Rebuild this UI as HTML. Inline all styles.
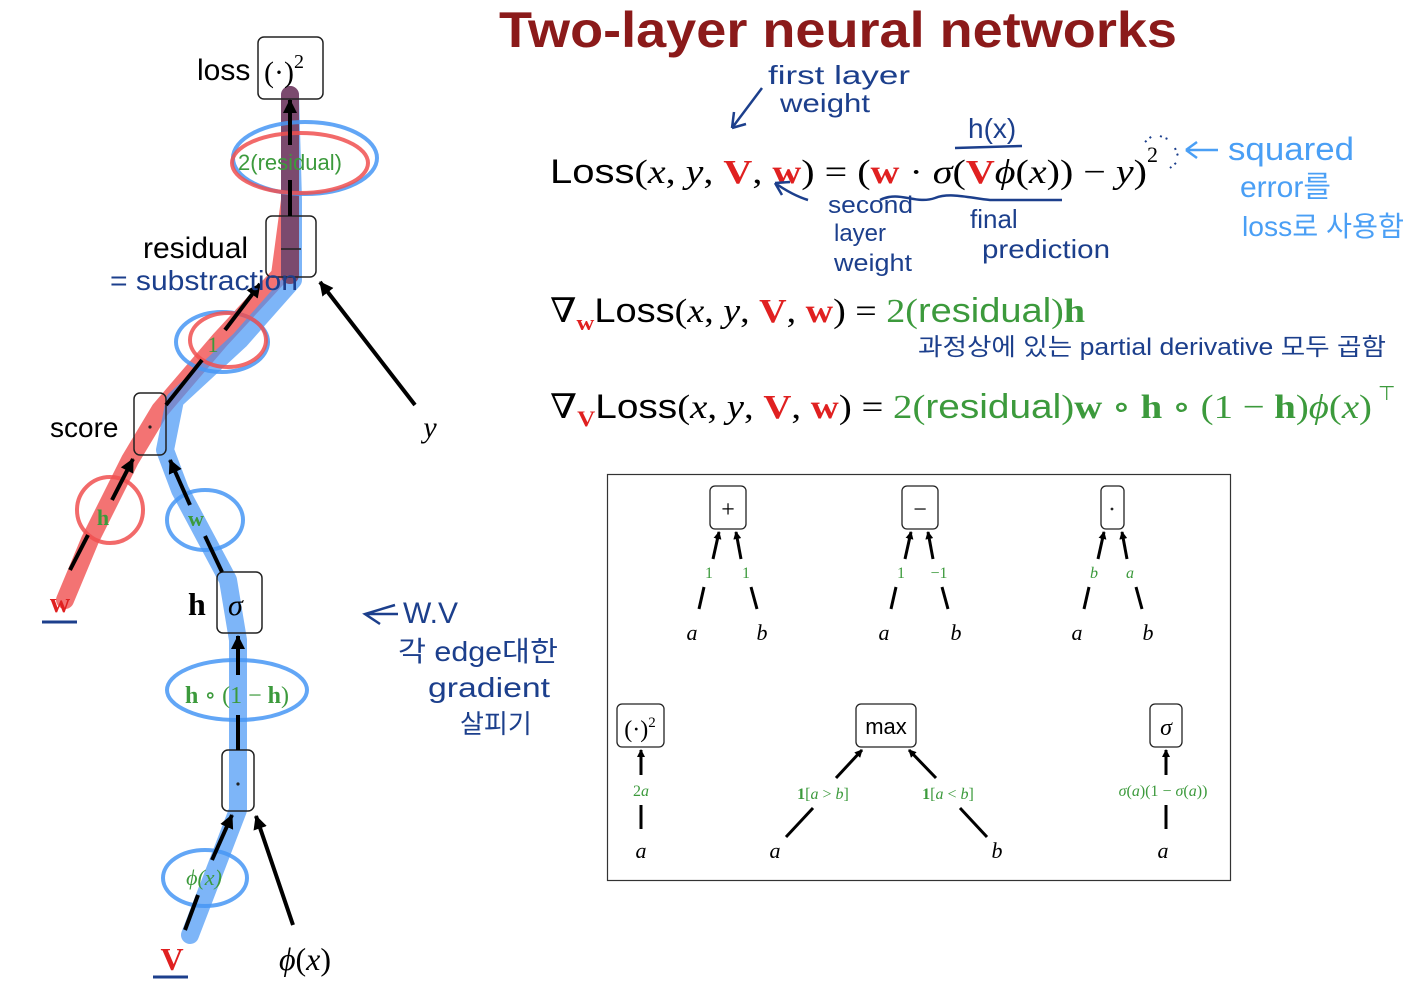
<!DOCTYPE html>
<html><head><meta charset="utf-8"><style>
html,body{margin:0;padding:0;background:#fff;}
svg{display:block}
.s{font-family:"Liberation Sans","Noto Sans CJK KR",sans-serif}
.m{font-family:"Liberation Serif","DejaVu Serif",serif}
.i{font-style:italic}
.g{fill:#3c9a3c}
.r{fill:#e02020}
.hw{font-family:"Liberation Sans","Noto Sans CJK KR",sans-serif;fill:#1c3f8c}
.lb{fill:#4a9ff5}
</style></head><body>
<svg width="1412" height="1000" viewBox="0 0 1412 1000" xmlns="http://www.w3.org/2000/svg">
<defs>
<marker id="ah" markerWidth="8" markerHeight="8" refX="7" refY="4" orient="auto" markerUnits="userSpaceOnUse"><path d="M0,0 L8,4 L0,8 z" fill="#000"/></marker>
<marker id="ah2" markerWidth="14" markerHeight="14" refX="13" refY="7" orient="auto" markerUnits="userSpaceOnUse"><path d="M0,0 L14,7 L0,14 z" fill="#000"/></marker>
</defs>

<path d="M65,600 L90,540 L130,460 L160,410 L220,340 L280,275 L290,200 L290,95" fill="none" stroke="rgba(240,80,80,0.8)" stroke-width="18" stroke-linecap="round" stroke-linejoin="round"/>
<path d="M190,935 L215,870 L238,810 L238,700 L238,640 L228,580 L180,490 L165,450 L175,400 L240,340 L293,280 L293,200 L290,95" fill="none" stroke="rgba(70,150,245,0.7)" stroke-width="18" stroke-linecap="round" stroke-linejoin="round"/>
<path d="M290,95 L290,275" stroke="#7b4a6e" stroke-width="18" stroke-linecap="round" fill="none"/>

<g fill="none" stroke-width="4">
<ellipse cx="305" cy="158" rx="72" ry="36" stroke="rgba(70,150,245,0.85)"/>
<ellipse cx="300" cy="163" rx="68" ry="30" stroke="rgba(240,80,80,0.85)"/>
<ellipse cx="222" cy="342" rx="46" ry="30" stroke="rgba(70,150,245,0.85)"/>
<ellipse cx="228" cy="340" rx="38" ry="27" stroke="rgba(240,80,80,0.85)"/>
<ellipse cx="110" cy="510" rx="33" ry="33" stroke="rgba(240,80,80,0.85)"/>
<ellipse cx="205" cy="520" rx="38" ry="30" stroke="rgba(70,150,245,0.85)"/>
<ellipse cx="237" cy="690" rx="70" ry="30" stroke="rgba(70,150,245,0.85)"/>
<ellipse cx="205" cy="878" rx="42" ry="28" stroke="rgba(70,150,245,0.85)"/>
</g>

<g fill="none" stroke="#222" stroke-width="1.5">
<rect x="258" y="37" width="65" height="62" rx="6"/>
<rect x="266" y="216" width="50" height="61" rx="6"/>
<rect x="134" y="393" width="32" height="62" rx="6"/>
<rect x="217" y="572" width="45" height="61" rx="6"/>
<rect x="222" y="750" width="32" height="61" rx="6"/>
</g>
<text x="197" y="80" class="s" font-size="30">loss</text>
<text x="264" y="82" class="m" font-size="30">(·)<tspan font-size="20" dy="-14">2</tspan></text>
<text x="143" y="258" class="s" font-size="30">residual</text>
<line x1="281" y1="249" x2="301" y2="249" stroke="#222" stroke-width="1.5"/>
<text x="50" y="437" class="s" font-size="28">score</text>
<circle cx="150" cy="427" r="1.6" fill="#222"/>
<text x="188" y="615" class="m" font-size="32" font-weight="bold">h</text>
<text x="228" y="615" class="m i" font-size="30">σ</text>
<circle cx="238" cy="784" r="1.6" fill="#222"/>

<g stroke="#000" stroke-width="4" fill="none">
<line x1="290" y1="216" x2="290" y2="180"/><line x1="290" y1="145" x2="290" y2="100" marker-end="url(#ah2)"/>
<line x1="166" y1="405" x2="202" y2="360"/><line x1="225" y1="330" x2="260" y2="284" marker-end="url(#ah2)"/>
<line x1="415" y1="405" x2="320" y2="282" marker-end="url(#ah2)"/>
<line x1="70" y1="570" x2="88" y2="535"/><line x1="112" y1="500" x2="133" y2="459" marker-end="url(#ah2)"/>
<line x1="222" y1="572" x2="205" y2="536"/><line x1="190" y1="505" x2="170" y2="460" marker-end="url(#ah2)"/>
<line x1="238" y1="750" x2="238" y2="715"/><line x1="238" y1="675" x2="238" y2="636" marker-end="url(#ah2)"/>
<line x1="185" y1="930" x2="198" y2="895"/><line x1="212" y1="860" x2="232" y2="815" marker-end="url(#ah2)"/>
<line x1="293" y1="925" x2="256" y2="816" marker-end="url(#ah2)"/>
</g>
<text x="290" y="170" class="s g" font-size="22" text-anchor="middle">2(residual)</text>
<text x="213" y="352" class="m g" font-size="22" text-anchor="middle">1</text>
<text x="103" y="525" class="m g" font-size="22" font-weight="bold" text-anchor="middle">h</text>
<text x="196" y="526" class="m g" font-size="22" font-weight="bold" text-anchor="middle">w</text>
<text x="237" y="703" class="m g" font-size="24" text-anchor="middle"><tspan font-weight="bold">h</tspan> ∘ (1 − <tspan font-weight="bold">h</tspan>)</text>
<text x="204" y="885" class="m i g" font-size="22" text-anchor="middle">ϕ(x)</text>
<text x="430" y="437" class="m i" font-size="30" text-anchor="middle">y</text>
<text x="60" y="612" class="m r" font-size="28" font-weight="bold" text-anchor="middle">w</text>
<line x1="42" y1="622" x2="77" y2="622" stroke="#1c3f8c" stroke-width="3"/>
<text x="172" y="970" class="m r" font-size="32" font-weight="bold" text-anchor="middle">V</text>
<line x1="153" y1="977" x2="188" y2="977" stroke="#1c3f8c" stroke-width="3"/>
<text x="305" y="970" class="m" font-size="32" text-anchor="middle"><tspan class="i">ϕ</tspan>(<tspan class="i">x</tspan>)</text>

<text x="110" y="290" class="hw" font-size="28" textLength="188" lengthAdjust="spacingAndGlyphs">= substraction</text>
<path d="M395,605 L365,614 L380,624 M365,614 L398,614" stroke="#1c3f8c" stroke-width="2.5" fill="none"/>
<text x="403" y="623" class="hw" font-size="30">W.V</text>
<text x="398" y="661" class="hw" font-size="28" textLength="160" lengthAdjust="spacingAndGlyphs">각 edge대한</text>
<text x="428" y="697" class="hw" font-size="28" textLength="122" lengthAdjust="spacingAndGlyphs">gradient</text>
<text x="460" y="733" class="hw" font-size="26">살피기</text>

<text x="838" y="47" font-family="Liberation Sans,sans-serif" font-weight="bold" font-size="50" fill="#8b1a1a" text-anchor="middle" textLength="678" lengthAdjust="spacingAndGlyphs">Two-layer neural networks</text>

<text x="550" y="183" class="m" font-size="34" textLength="597" lengthAdjust="spacingAndGlyphs"><tspan class="s">Loss</tspan>(<tspan class="i">x</tspan>, <tspan class="i">y</tspan>, <tspan class="r" font-weight="bold">V</tspan>, <tspan class="r" font-weight="bold">w</tspan>) = (<tspan class="r" font-weight="bold">w</tspan> · <tspan class="i">σ</tspan>(<tspan class="r" font-weight="bold">V</tspan><tspan class="i">ϕ</tspan>(<tspan class="i">x</tspan>)) − <tspan class="i">y</tspan>)</text>
<text x="1147" y="162" class="m" font-size="22">2</text>
<text x="550" y="322" class="m" font-size="34" textLength="535" lengthAdjust="spacingAndGlyphs">∇<tspan class="r" font-weight="bold" font-size="22" dy="8">w</tspan><tspan class="s" dy="-8">Loss</tspan>(<tspan class="i">x</tspan>, <tspan class="i">y</tspan>, <tspan class="r" font-weight="bold">V</tspan>, <tspan class="r" font-weight="bold">w</tspan>) = <tspan class="g">2(</tspan><tspan class="g s">residual</tspan><tspan class="g">)</tspan><tspan class="g" font-weight="bold">h</tspan></text>
<text x="550" y="418" class="m" font-size="34" textLength="822" lengthAdjust="spacingAndGlyphs">∇<tspan class="r" font-weight="bold" font-size="22" dy="8">V</tspan><tspan class="s" dy="-8">Loss</tspan>(<tspan class="i">x</tspan>, <tspan class="i">y</tspan>, <tspan class="r" font-weight="bold">V</tspan>, <tspan class="r" font-weight="bold">w</tspan>) = <tspan class="g">2(</tspan><tspan class="g s">residual</tspan><tspan class="g">)</tspan><tspan class="g" font-weight="bold">w</tspan><tspan class="g"> ∘ </tspan><tspan class="g" font-weight="bold">h</tspan><tspan class="g"> ∘ (1 − </tspan><tspan class="g" font-weight="bold">h</tspan><tspan class="g">)</tspan><tspan class="g i">ϕ</tspan><tspan class="g">(</tspan><tspan class="g i">x</tspan><tspan class="g">)</tspan></text>
<text x="1378" y="400" class="s g" font-size="20">⊤</text>

<text x="768" y="84" class="hw" font-size="26" textLength="142" lengthAdjust="spacingAndGlyphs">first layer</text>
<text x="780" y="112" class="hw" font-size="26" textLength="90" lengthAdjust="spacingAndGlyphs">weight</text>
<path d="M762,88 L732,128 M732,128 L734,112 M732,128 L746,124" stroke="#1c3f8c" stroke-width="2.5" fill="none"/>
<text x="968" y="138" class="hw" font-size="28">h(x)</text>
<line x1="955" y1="148" x2="1022" y2="146" stroke="#1c3f8c" stroke-width="2.5"/>
<path d="M808,200 C795,196 785,190 775,183 M775,183 L790,182 M775,183 L782,195" stroke="#1c3f8c" stroke-width="2.5" fill="none"/>
<path d="M880,200 C900,190 915,205 935,198 C950,192 970,198 990,200 L1062,200" stroke="#1c3f8c" stroke-width="2.5" fill="none"/>
<text x="828" y="213" class="hw" font-size="24" textLength="85" lengthAdjust="spacingAndGlyphs">second</text>
<text x="834" y="241" class="hw" font-size="24">layer</text>
<text x="834" y="271" class="hw" font-size="24" textLength="78" lengthAdjust="spacingAndGlyphs">weight</text>
<text x="970" y="228" class="hw" font-size="26">final</text>
<text x="982" y="258" class="hw" font-size="26" textLength="128" lengthAdjust="spacingAndGlyphs">prediction</text>
<text x="918" y="355" class="hw" font-size="24" textLength="468" lengthAdjust="spacingAndGlyphs">과정상에 있는 partial derivative 모두 곱함</text>
<path d="M1145,142 L1152,136 M1160,136 L1170,140 M1175,148 L1178,156 M1176,163 L1170,168" stroke="#1c3f8c" stroke-width="2" fill="none" stroke-dasharray="2 4"/>
<path d="M1218,150 L1186,150 M1186,150 L1197,142 M1186,150 L1197,158" stroke="#4a9ff5" stroke-width="2.5" fill="none"/>
<text x="1228" y="160" class="hw lb" font-size="32" textLength="126" lengthAdjust="spacingAndGlyphs">squared</text>
<text x="1240" y="197" class="hw lb" font-size="30">error를</text>
<text x="1242" y="236" class="hw lb" font-size="28" textLength="162" lengthAdjust="spacingAndGlyphs">loss로 사용함</text>

<rect x="607.5" y="474.5" width="623" height="406" fill="none" stroke="#333" stroke-width="1.2"/>
<g fill="none" stroke="#222" stroke-width="1.3">
<rect x="710" y="486" width="36" height="43" rx="5"/>
<rect x="902" y="486" width="36" height="43" rx="5"/>
<rect x="1101" y="486" width="23" height="43" rx="5"/>
<rect x="617" y="704" width="47" height="43" rx="5"/>
<rect x="856" y="704" width="60" height="43" rx="5"/>
<rect x="1150" y="704" width="32" height="43" rx="5"/>
</g>
<text x="728" y="517" class="m" font-size="24" text-anchor="middle">+</text>
<text x="920" y="517" class="m" font-size="24" text-anchor="middle">−</text>
<circle cx="1112" cy="509" r="1.4" fill="#222"/>
<text x="640" y="737" class="m" font-size="24" text-anchor="middle">(·)<tspan font-size="15" dy="-10">2</tspan></text>
<text x="886" y="734" class="s" font-size="22" text-anchor="middle">max</text>
<text x="1166" y="735" class="m i" font-size="24" text-anchor="middle">σ</text>
<g stroke="#000" stroke-width="3" fill="none">
<line x1="699" y1="609" x2="704" y2="587"/><line x1="713" y1="559" x2="719" y2="532" marker-end="url(#ah)"/>
<line x1="757" y1="609" x2="751" y2="587"/><line x1="741" y1="559" x2="736" y2="532" marker-end="url(#ah)"/>
<line x1="891" y1="609" x2="896" y2="587"/><line x1="905" y1="559" x2="911" y2="532" marker-end="url(#ah)"/>
<line x1="948" y1="609" x2="942" y2="587"/><line x1="933" y1="559" x2="928" y2="532" marker-end="url(#ah)"/>
<line x1="1084" y1="609" x2="1089" y2="587"/><line x1="1098" y1="559" x2="1104" y2="532" marker-end="url(#ah)"/>
<line x1="1142" y1="609" x2="1136" y2="587"/><line x1="1127" y1="559" x2="1122" y2="532" marker-end="url(#ah)"/>
<line x1="641" y1="829" x2="641" y2="805"/><line x1="641" y1="775" x2="641" y2="750" marker-end="url(#ah)"/>
<line x1="786" y1="837" x2="813" y2="808"/><line x1="836" y1="778" x2="862" y2="750" marker-end="url(#ah)"/>
<line x1="987" y1="837" x2="960" y2="808"/><line x1="936" y1="778" x2="909" y2="750" marker-end="url(#ah)"/>
<line x1="1166" y1="829" x2="1166" y2="805"/><line x1="1166" y1="775" x2="1166" y2="750" marker-end="url(#ah)"/>
</g>
<g class="m g" font-size="16" text-anchor="middle">
<text x="709" y="578">1</text><text x="746" y="578">1</text>
<text x="901" y="578">1</text><text x="939" y="578">−1</text>
<text x="1094" y="578" class="i">b</text><text x="1130" y="578" class="i">a</text>
<text x="641" y="796">2<tspan class="i">a</tspan></text>
<text x="823" y="799"><tspan font-weight="bold">1</tspan>[<tspan class="i">a</tspan> &gt; <tspan class="i">b</tspan>]</text>
<text x="948" y="799"><tspan font-weight="bold">1</tspan>[<tspan class="i">a</tspan> &lt; <tspan class="i">b</tspan>]</text>
<text x="1163" y="796"><tspan class="i">σ</tspan>(<tspan class="i">a</tspan>)(1 − <tspan class="i">σ</tspan>(<tspan class="i">a</tspan>))</text>
</g>
<g class="m i" font-size="22" text-anchor="middle">
<text x="692" y="640">a</text><text x="762" y="640">b</text>
<text x="884" y="640">a</text><text x="956" y="640">b</text>
<text x="1077" y="640">a</text><text x="1148" y="640">b</text>
<text x="641" y="858">a</text><text x="775" y="858">a</text><text x="997" y="858">b</text><text x="1163" y="858">a</text>
</g>
</svg>
</body></html>
